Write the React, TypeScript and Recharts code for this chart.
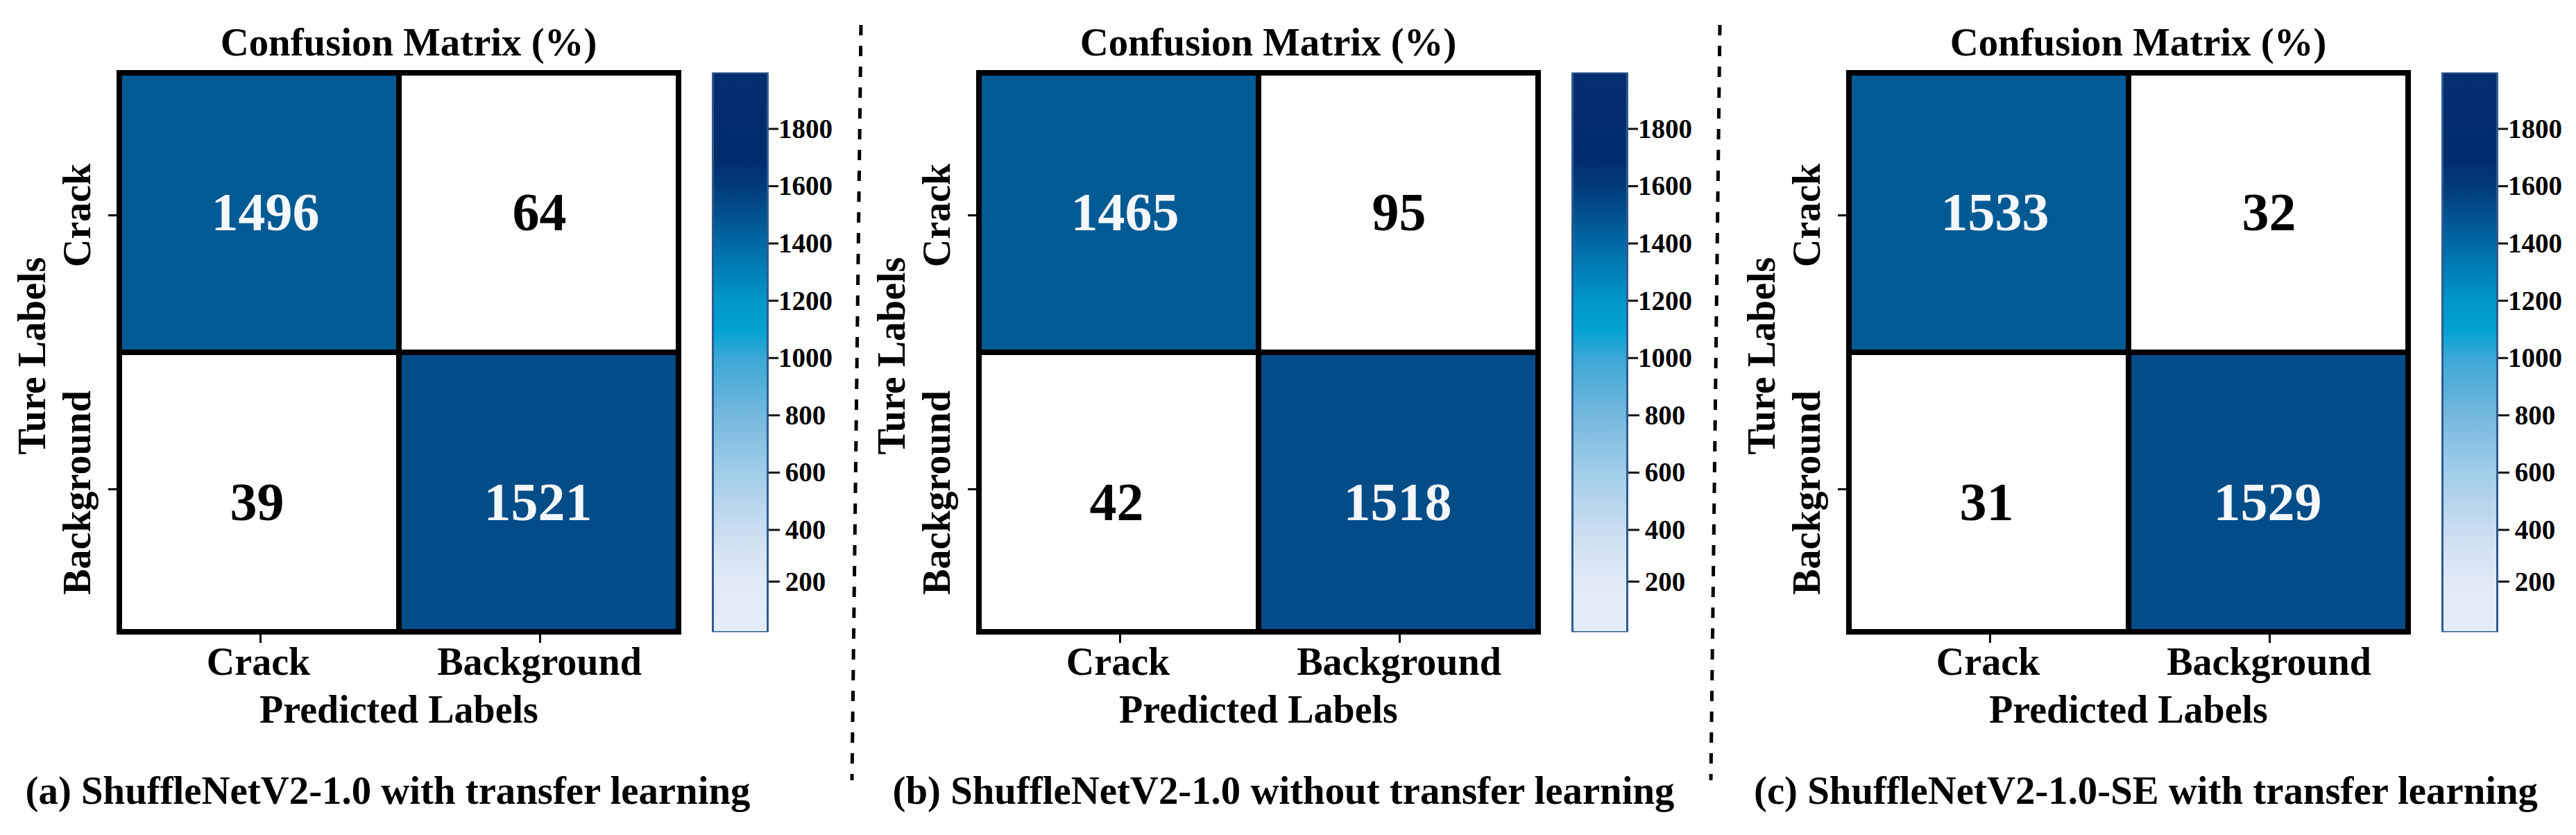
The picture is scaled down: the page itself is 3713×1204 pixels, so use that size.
import React from 'react';
import { BarChart, Bar, Cell, LabelList, XAxis, YAxis, Label } from 'recharts';

const classNames = ['Crack', 'Background'];
const countsA = [[1496, 64], [39, 1521]];
const countsB = [[1465, 95], [42, 1518]];
const countsC = [[1533, 32], [31, 1529]];
const cellFills = [['#025a94', '#ffffff'], ['#ffffff', '#024c88']];
const captions = [
  '(a) ShuffleNetV2-1.0 with transfer learning',
  '(b) ShuffleNetV2-1.0 without transfer learning',
  '(c) ShuffleNetV2-1.0-SE with transfer learning',
];
const scaleTicks = [200, 400, 600, 800, 1000, 1200, 1400, 1600, 1800];
const scaleDomain = [43, 1997];
const colorStops: [number, string][] = [
  [1997, '#052f6e'], [1700, '#012c6c'], [1600, '#003c7a'], [1500, '#00528e'],
  [1400, '#006aa5'], [1200, '#0097c9'], [1100, '#00a2d2'], [1000, '#3aa9d4'],
  [800, '#74b8de'], [600, '#a0cde8'], [400, '#c9ddf0'], [300, '#d9e5f4'],
  [200, '#e1ebf7'], [43, '#e4ecf8'],
];

const FONT = '"Liberation Serif", serif';
const panels = [
  { left: 0, counts: countsA, caption: captions[0], captionX: 559 },
  { left: 1239, counts: countsB, caption: captions[1], captionX: 1850 },
  { left: 2493, counts: countsC, caption: captions[2], captionX: 3093 },
];
// number offsets inside the cells, the figure is not quite centred
const labelNudge = [[[9, -1], [1, -1]], [[-3, 14], [-1, 14]]];

const XTick = ({ x, payload }: any) => (
  <g>
    <line x1={x + 2} x2={x + 2} y1={915} y2={927} stroke="#000" strokeWidth={3} />
    <text x={x + (payload.value === 'Crack' ? -1 : 1)} y={973} textAnchor="middle" fontFamily={FONT} fontWeight="bold" fontSize={56}>
      {payload.value}
    </text>
  </g>
);

const YTick = ({ y, payload }: any) => {
  const name = payload.value > 1 ? 'Crack' : 'Background';
  const tickY = y + (payload.value > 1 ? 4 : -4);
  const textY = y + (payload.value > 1 ? 4 : 1);
  return (
    <g>
      <line x1={156} x2={168} y1={tickY} y2={tickY} stroke="#000" strokeWidth={3} />
      <text transform={`translate(130 ${textY}) rotate(-90)`} textAnchor="middle" fontFamily={FONT} fontWeight="bold" fontSize={56}>
        {name}
      </text>
    </g>
  );
};

const cellLabel = (row: number, col: number, counts: number[][], p: any) => {
  const value = counts[row][col];
  const nudge = labelNudge[row][col];
  return (
    <text
      x={p.x + p.width / 2 + nudge[0]}
      y={p.y + p.height / 2 + nudge[1] + 26}
      textAnchor="middle"
      fontFamily={FONT}
      fontWeight="bold"
      fontSize={78}
      fill={value > 1000 ? '#f4f8fc' : '#000'}
    >
      {value}
    </text>
  );
};

const Matrix = ({ counts }: { counts: number[][] }) => {
  const rows = classNames.map(name => ({ predicted: name, trueCrack: 1, trueBackground: 1 }));
  return (
    <BarChart width={1010} height={1090} data={rows} margin={{ top: 105, right: 32, bottom: 0, left: 0 }} barCategoryGap={0}>
      <XAxis dataKey="predicted" type="category" height={179} tickLine={false} axisLine={false} interval={0} tick={<XTick />}>
        <Label
          content={() => (
            <text x={575} y={1042} textAnchor="middle" fontFamily={FONT} fontWeight="bold" fontSize={56}>
              Predicted Labels
            </text>
          )}
        />
      </XAxis>
      <YAxis type="number" domain={[0, 2]} ticks={[0.5, 1.5]} width={172} tickLine={false} axisLine={false} tick={<YTick />}>
        <Label
          content={() => (
            <text transform="translate(65 513) rotate(-90)" textAnchor="middle" fontFamily={FONT} fontWeight="bold" fontSize={56}>
              Ture Labels
            </text>
          )}
        />
      </YAxis>
      <Bar dataKey="trueBackground" stackId="m" isAnimationActive={false} stroke="#000" strokeWidth={8}>
        {rows.map((_, col) => <Cell key={col} fill={cellFills[1][col]} />)}
        <LabelList content={(p: any) => cellLabel(1, p.index, counts, p)} />
      </Bar>
      <Bar dataKey="trueCrack" stackId="m" isAnimationActive={false} stroke="#000" strokeWidth={8}>
        {rows.map((_, col) => <Cell key={col} fill={cellFills[0][col]} />)}
        <LabelList content={(p: any) => cellLabel(0, p.index, counts, p)} />
      </Bar>
    </BarChart>
  );
};

const ScaleTick = ({ y, payload }: any) => {
  // the 200 mark sits a little high in the figure
  const ty = payload.value === 200 ? y - 8 : y;
  return (
    <g>
      <line x1={108} x2={payload.value >= 1000 ? 122 : 124} y1={ty} y2={ty} stroke="#111" strokeWidth={3} />
      <text x={161} y={ty + 13} textAnchor="middle" fontFamily={FONT} fontWeight="bold" fontSize={39}>
        {payload.value}
      </text>
    </g>
  );
};

const ColorScale = ({ id }: { id: string }) => {
  const span = scaleDomain[1] - scaleDomain[0];
  return (
    <BarChart width={220} height={1000} data={[{ name: 'count', range: scaleDomain }]} margin={{ top: 104.5, right: 33.5, bottom: 88.5, left: 27.5 }} barCategoryGap={0}>
      <defs>
        <linearGradient id={id} x1="0" y1="0" x2="0" y2="1">
          {colorStops.map(([v, c]) => (
            <stop key={v} offset={(scaleDomain[1] - v) / span} stopColor={c} />
          ))}
        </linearGradient>
      </defs>
      <XAxis dataKey="name" hide />
      <YAxis orientation="right" type="number" domain={scaleDomain} ticks={scaleTicks} width={80} tickLine={false} axisLine={false} interval={0} tick={<ScaleTick />} allowDataOverflow />
      <Bar dataKey="range" fill={`url(#${id})`} stroke="#2e5a90" strokeWidth={3} isAnimationActive={false} />
    </BarChart>
  );
};

const App: React.FC = () => (
  <div style={{ position: 'absolute', left: 0, top: 0, width: 3713, height: 1204, background: '#fff', overflow: 'hidden' }}>
    {panels.map((p, i) => (
      <React.Fragment key={i}>
        <div style={{ position: 'absolute', left: p.left, top: 0 }}>
          <Matrix counts={p.counts} />
        </div>
        <div style={{ position: 'absolute', left: p.left + 1000, top: 0 }}>
          <ColorScale id={`scale-${i}`} />
        </div>
      </React.Fragment>
    ))}
    <svg width={3713} height={1204} style={{ position: 'absolute', left: 0, top: 0, pointerEvents: 'none' }}>
      {panels.map((p, i) => (
        <g key={i} fontFamily={FONT} fontWeight="bold" fontSize={56.8} textAnchor="middle">
          <text x={p.left + 589} y={80}>Confusion Matrix (%)</text>
          <text x={p.captionX} y={1159}>{p.caption}</text>
        </g>
      ))}
      <line x1={1241} y1={36} x2={1228} y2={1125} stroke="#000" strokeWidth={5} strokeDasharray="15 15" />
      <line x1={2479} y1={36} x2={2466} y2={1125} stroke="#000" strokeWidth={5} strokeDasharray="15 15" />
    </svg>
  </div>
);

export default App;
